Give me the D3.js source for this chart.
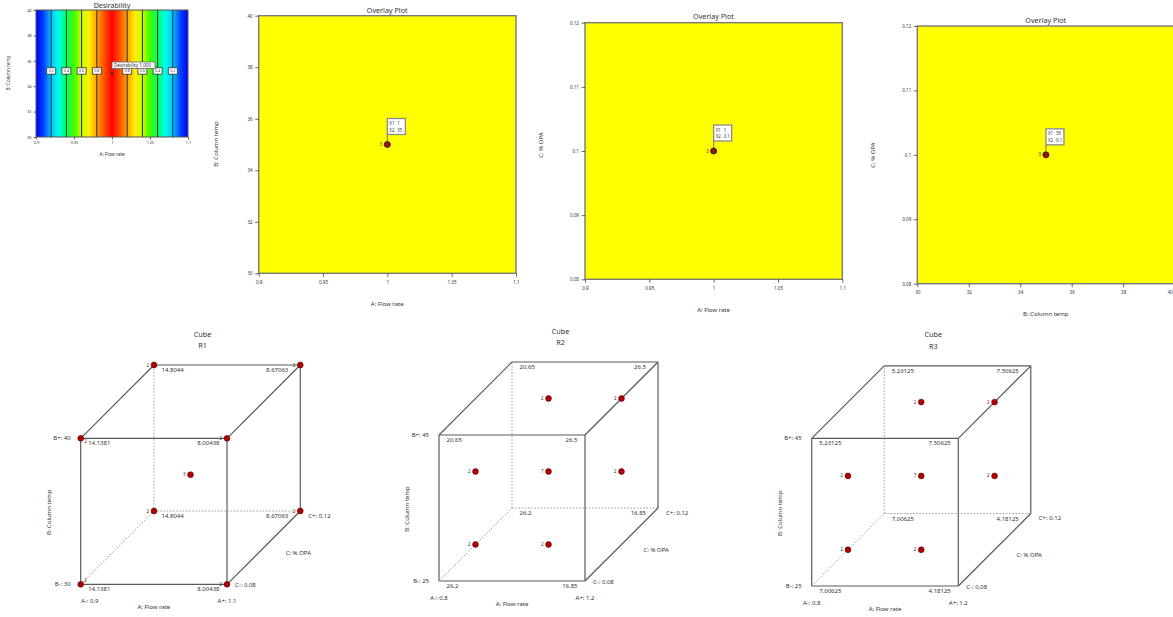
<!DOCTYPE html>
<html>
<head>
<meta charset="utf-8">
<script src="https://cdn.jsdelivr.net/npm/d3@7"></script>
<style>
  html, body { margin: 0; padding: 0; background: #ffffff; }
  svg { display: block; font-family: "Noto Sans", "Open Sans", sans-serif; }
</style>
</head>
<body>
<script>
// ---- factor ticks ----
const flowTicks = [0.9, 0.95, 1, 1.05, 1.1];
const flowTickLabels = ["0.9", "0.95", "1", "1.05", "1.1"];
const tempTicks = [30, 32, 34, 36, 38, 40];
const tempTickLabels = ["30", "32", "34", "36", "38", "40"];
const opaTicks = [0.08, 0.09, 0.1, 0.11, 0.12];
const opaTickLabels = ["0.08", "0.09", "0.1", "0.11", "0.12"];

// ---- desirability contours (A: Flow rate where D takes each level) ----
const contourFlow = [0.92, 0.94, 0.96, 0.98, 1.02, 1.04, 1.06, 1.08];
const contourLevels = ["0.2", "0.4", "0.6", "0.8", "0.8", "0.6", "0.4", "0.2"];
// desirability profile along flow rate
const profileFlow = [0.9, 1.0, 1.1];
const profileD = [0, 1, 0];

// ---- optimum solution ----
const optimumFlow = 1;
const optimumTemp = 35;
const optimumOPA = 0.1;
const optimumDesirability = "1.000";
const optimumRuns = 3;

// ---- cube plots ----
const cubeTitles = ["R1", "R2", "R3"];
const cubeFlowRange = [[0.9, 1.1], [0.8, 1.2], [0.8, 1.2]];
const cubeTempRange = [[30, 40], [25, 45], [25, 45]];
const cubeOPARange = [[0.08, 0.12], [0.08, 0.12], [0.08, 0.12]];
// corners in coded levels (A, B, C)
const cornerLevels = [[-1,-1,-1],[1,-1,-1],[-1,1,-1],[1,1,-1],[-1,-1,1],[1,-1,1],[-1,1,1],[1,1,1]];
const r1Values = ["14.1381","8.00438","14.1381","8.00438","14.8044","8.67063","14.8044","8.67063"];
const r2Values = ["26.2","16.85","20.65","26.5","26.2","16.85","20.65","26.5"];
const r3Values = ["7.00625","4.18125","5.23125","7.50625","7.00625","4.18125","5.23125","7.50625"];
// design runs: coded A, B, C and replicate count
const r1Runs = [[-1,-1,-1,2],[1,-1,-1,2],[-1,1,-1,2],[1,1,-1,2],[-1,-1,1,2],[1,-1,1,2],[-1,1,1,2],[1,1,1,2],[0,0,0,3]];
const r2Runs = [[0,1,0,2],[1,1,0,2],[-1,0,0,2],[0,0,0,7],[1,0,0,2],[-1,-1,0,2],[0,-1,0,2]];
const r3Runs = [[0,1,0,2],[1,1,0,2],[-1,0,0,2],[0,0,0,7],[1,0,0,2],[-1,-1,0,2],[0,-1,0,2]];

const W = 1173, H = 617;
const TXT = "#333333";
const svg = d3.select("body").append("svg").attr("width", W).attr("height", H);
svg.append("rect").attr("width", W).attr("height", H).attr("fill", "#ffffff");

function styleAxis(g, fs) {
  g.select(".domain").remove();
  g.selectAll(".tick line").attr("stroke", "#444").attr("stroke-width", 0.8);
  g.selectAll(".tick text").attr("fill", TXT).attr("font-size", fs).attr("font-family", "Noto Sans, sans-serif");
}

// ---------------- Desirability contour panel ----------------
(function desirability() {
  const x = d3.scaleLinear().domain([0.9, 1.1]).range([36, 188]);
  const y = d3.scaleLinear().domain([30, 40]).range([137, 10]);
  const dAt = d3.scaleLinear().domain(profileFlow).range(profileD);
  const colour = d3.scaleLinear()
    .domain([0, 0.1, 0.2, 0.3, 0.4, 0.5, 0.6, 0.7, 0.8, 0.9, 1])
    .range(["#0000f0", "#0040ff", "#00c8ff", "#00ffe8", "#00ff60", "#40ff00", "#c8ff00", "#ffee00", "#ffa000", "#ff5000", "#ff0000"]);

  const defs = svg.append("defs");
  const grad = defs.append("linearGradient").attr("id", "desGrad")
    .attr("x1", "0%").attr("x2", "100%").attr("y1", "0%").attr("y2", "0%");
  d3.range(0, 101).forEach(i => {
    const a = 0.9 + i * 0.002;
    grad.append("stop").attr("offset", i + "%").attr("stop-color", colour(dAt(a)));
  });

  const g = svg.append("g");
  g.append("rect").attr("x", x(0.9)).attr("y", y(40)).attr("width", x(1.1) - x(0.9)).attr("height", y(30) - y(40))
    .attr("fill", "url(#desGrad)");
  g.selectAll("line.contour").data(contourFlow).enter().append("line").attr("class", "contour")
    .attr("x1", d => x(d)).attr("x2", d => x(d)).attr("y1", y(40)).attr("y2", y(30))
    .attr("stroke", "#2a2a2a").attr("stroke-width", 1);
  g.append("rect").attr("x", x(0.9)).attr("y", y(40)).attr("width", x(1.1) - x(0.9)).attr("height", y(30) - y(40))
    .attr("fill", "none").attr("stroke", "#555").attr("stroke-width", 1);

  const lab = g.selectAll("g.clab").data(contourFlow).enter().append("g").attr("class", "clab")
    .attr("transform", d => `translate(${x(d)},${y(35.2)})`);
  lab.append("rect").attr("x", -4.5).attr("y", -3.2).attr("width", 9).attr("height", 6.4)
    .attr("fill", "#ffffff").attr("stroke", "#333").attr("stroke-width", 0.8);
  lab.append("text").text((d, i) => contourLevels[i]).attr("text-anchor", "middle").attr("dy", "0.35em")
    .attr("font-size", 3.6).attr("fill", TXT);

  // optimum flag
  g.append("circle").attr("cx", x(optimumFlow)).attr("cy", y(optimumTemp)).attr("r", 1.6).attr("fill", "#662200");
  g.append("line").attr("x1", x(optimumFlow)).attr("x2", x(optimumFlow)).attr("y1", y(optimumTemp)).attr("y2", 68)
    .attr("stroke", "#555").attr("stroke-width", 0.7);
  g.append("rect").attr("x", x(optimumFlow)).attr("y", 62).attr("width", 43).attr("height", 6.5)
    .attr("fill", "#ffffff").attr("stroke", "#666").attr("stroke-width", 0.8);
  g.append("text").attr("x", x(optimumFlow) + 2).attr("y", 67.1).attr("font-size", 4.6).attr("fill", TXT)
    .text("Desirability  " + optimumDesirability);

  const ax = g.append("g").attr("transform", `translate(0,${y(30)})`)
    .call(d3.axisBottom(x).tickValues(flowTicks).tickFormat((d, i) => flowTickLabels[i]).tickSize(2.5).tickPadding(2));
  styleAxis(ax, 3.8);
  const ay = g.append("g").attr("transform", `translate(${x(0.9)},0)`)
    .call(d3.axisLeft(y).tickValues(tempTicks).tickFormat((d, i) => tempTickLabels[i]).tickSize(2.5).tickPadding(2));
  styleAxis(ay, 3.8);

  g.append("text").attr("x", 112).attr("y", 7.5).attr("text-anchor", "middle").attr("font-size", 7).attr("fill", TXT).text("Desirability");
  g.append("text").attr("x", 112).attr("y", 156).attr("text-anchor", "middle").attr("font-size", 4.6).attr("fill", TXT).text("A: Flow rate");
  g.append("text").attr("transform", "translate(9.5,73) rotate(-90)").attr("text-anchor", "middle").attr("font-size", 4.6).attr("fill", TXT).text("B: Column temp");
})();

// ---------------- Overlay plots ----------------
function overlayPanel(c) {
  const x = d3.scaleLinear().domain(c.xDomain).range(c.xRange);
  const y = d3.scaleLinear().domain(c.yDomain).range(c.yRange);
  const g = svg.append("g");
  const x0 = c.xRange[0], x1 = c.xRange[1], yTop = c.yRange[1], yBot = c.yRange[0];
  g.append("rect").attr("x", x0).attr("y", yTop).attr("width", x1 - x0).attr("height", yBot - yTop).attr("fill", "#ffff00");
  g.append("rect").attr("x", x0).attr("y", yTop).attr("width", x1 - x0).attr("height", yBot - yTop)
    .attr("fill", "none").attr("stroke", "#7a7a7a").attr("stroke-width", 1.4);

  const ax = g.append("g").attr("transform", `translate(0,${yBot})`)
    .call(d3.axisBottom(x).tickValues(c.xTicks).tickFormat((d, i) => c.xTickLabels[i]).tickSize(3.5).tickPadding(4));
  styleAxis(ax, 4.6);
  // keep a tick label that would run past the page edge inside it
  ax.selectAll(".tick").each(function (d) {
    if (x(d) > W - 4) d3.select(this).select("text").attr("text-anchor", "end").attr("x", W - x(d) - 0.5);
  });
  const ay = g.append("g").attr("transform", `translate(${x0},0)`)
    .call(d3.axisLeft(y).tickValues(c.yTicks).tickFormat((d, i) => c.yTickLabels[i]).tickSize(3.5).tickPadding(2.5));
  styleAxis(ay, 4.6);

  g.append("text").attr("x", (x0 + 257 / 2)).attr("y", c.titleY).attr("text-anchor", "middle").attr("font-size", 7.2).attr("fill", TXT).text("Overlay Plot");
  g.append("text").attr("x", (x0 + 257 / 2)).attr("y", c.xLabelY).attr("text-anchor", "middle").attr("font-size", 6).attr("fill", TXT).text(c.xLabel);
  g.append("text").attr("transform", `translate(${c.yLabelX},${c.yLabelY}) rotate(-90)`).attr("text-anchor", "middle").attr("font-size", 6).attr("fill", TXT).text(c.yLabel);

  // optimum flag
  const px = x(c.point[0]), py = y(c.point[1]);
  g.append("line").attr("x1", px).attr("x2", px).attr("y1", py).attr("y2", py - 10).attr("stroke", "#555").attr("stroke-width", 0.8);
  g.append("rect").attr("x", px).attr("y", py - 26).attr("width", 18).attr("height", 16)
    .attr("fill", "#ffffff").attr("stroke", "#8a8a8a").attr("stroke-width", 1.3);
  g.append("text").attr("x", px + 2).attr("y", py - 19.5).attr("font-size", 4.4).attr("fill", TXT).text("X1");
  g.append("text").attr("x", px + 2).attr("y", py - 13).attr("font-size", 4.4).attr("fill", TXT).text("X2");
  g.append("text").attr("x", px + 10).attr("y", py - 19.5).attr("font-size", 4.4).attr("fill", TXT).text(c.flag[0]);
  g.append("text").attr("x", px + 10).attr("y", py - 13).attr("font-size", 4.4).attr("fill", TXT).text(c.flag[1]);
  g.append("circle").attr("cx", px).attr("cy", py).attr("r", 3).attr("fill", "#a01010").attr("stroke", "#222").attr("stroke-width", 0.9);
  g.append("text").attr("x", px - 5).attr("y", py).attr("dy", "0.35em").attr("text-anchor", "end").attr("font-size", 4.4).attr("fill", TXT).text(optimumRuns);
}

overlayPanel({
  xDomain: [0.9, 1.1], xRange: [258.7, 516], yDomain: [30, 40], yRange: [273.3, 15.7],
  xTicks: flowTicks, xTickLabels: flowTickLabels, yTicks: tempTicks, yTickLabels: tempTickLabels,
  titleY: 12.8, xLabelY: 306.3, xLabel: "A: Flow rate", yLabelX: 218, yLabelY: 144, yLabel: "B: Column temp",
  point: [optimumFlow, optimumTemp], flag: [String(optimumFlow), String(optimumTemp)]
});
overlayPanel({
  xDomain: [0.9, 1.1], xRange: [585, 842.3], yDomain: [0.08, 0.12], yRange: [279.3, 22.7],
  xTicks: flowTicks, xTickLabels: flowTickLabels, yTicks: opaTicks, yTickLabels: opaTickLabels,
  titleY: 18.5, xLabelY: 312.3, xLabel: "A: Flow rate", yLabelX: 543, yLabelY: 145, yLabel: "C: % OPA",
  point: [optimumFlow, optimumOPA], flag: [String(optimumFlow), String(optimumOPA)]
});
overlayPanel({
  xDomain: [30, 40], xRange: [917.3, 1174.6], yDomain: [0.08, 0.12], yRange: [283.7, 26],
  xTicks: tempTicks, xTickLabels: tempTickLabels, yTicks: opaTicks, yTickLabels: opaTickLabels,
  titleY: 22.5, xLabelY: 315.5, xLabel: "B: Column temp", yLabelX: 875, yLabelY: 155, yLabel: "C: % OPA",
  point: [optimumTemp, optimumOPA], flag: [String(optimumTemp), String(optimumOPA)]
});

// ---------------- Cube plots ----------------
function cubePlot(c) {
  const [fA, fB, fC] = [c.flow, c.temp, c.opa];
  const xa = d3.scaleLinear().domain(fA).range([c.left, c.right]);
  const yb = d3.scaleLinear().domain(fB).range([c.bottom, c.top]);
  const dc = d3.scaleLinear().domain(fC).range([0, c.depth]);
  const lvl = (range, k) => range[0] + (k + 1) / 2 * (range[1] - range[0]);
  const P = (a, b, cc) => {
    const A = lvl(fA, a), B = lvl(fB, b), C = lvl(fC, cc);
    return [xa(A) + dc(C), yb(B) - dc(C)];
  };
  const g = svg.append("g");

  // edges: [from, to, hidden]
  const edges = [
    [[-1,-1,-1],[1,-1,-1],0],[[-1,1,-1],[1,1,-1],0],[[-1,-1,-1],[-1,1,-1],0],[[1,-1,-1],[1,1,-1],0],
    [[-1,1,1],[1,1,1],0],[[1,-1,1],[1,1,1],0],[[-1,-1,1],[1,-1,1],1],[[-1,-1,1],[-1,1,1],1],
    [[-1,1,-1],[-1,1,1],0],[[1,1,-1],[1,1,1],0],[[1,-1,-1],[1,-1,1],0],[[-1,-1,-1],[-1,-1,1],1]
  ];
  edges.forEach(([p, q, hidden]) => {
    const a = P(...p), b = P(...q);
    g.append("line").attr("x1", a[0]).attr("y1", a[1]).attr("x2", b[0]).attr("y2", b[1])
      .attr("stroke", hidden ? "#8a8a8a" : "#5a5a5a").attr("stroke-width", hidden ? 0.8 : 1.2)
      .attr("stroke-dasharray", hidden ? "1.6,1.6" : null);
  });

  // corner response values
  cornerLevels.forEach((lv, i) => {
    const [px, py] = P(...lv);
    const left = lv[0] < 0;
    const back = lv[2] > 0;
    g.append("text").attr("x", left ? px + 7.5 : px - (back ? 12 : 7.5)).attr("y", py + 5).attr("dy", "0.35em")
      .attr("text-anchor", left ? "start" : "end").attr("font-size", 6).attr("fill", TXT).text(c.values[i]);
  });

  // design points
  c.runs.forEach(r => {
    const [px, py] = P(r[0], r[1], r[2]);
    g.append("circle").attr("cx", px).attr("cy", py).attr("r", 2.9).attr("fill", "#b00000").attr("stroke", "#5a0000").attr("stroke-width", 0.6);
    const right = r[0] < 0 && r[2] < 0 && Math.abs(r[1]) === 1 && r[2] === -1;
    g.append("text").attr("x", right ? px + 3.5 : px - 5).attr("y", right ? py + (r[1] > 0 ? 3.5 : -3.5) : py)
      .attr("dy", "0.35em").attr("text-anchor", right ? "start" : "end").attr("font-size", 4.4).attr("fill", TXT).text(r[3]);
  });

  const fbl = P(-1,-1,-1), ftl = P(-1,1,-1), fbr = P(1,-1,-1), bbr = P(1,-1,1), btl = P(-1,1,1);
  const fmt = v => String(v);
  const t = (x, y, s, anchor, fs) => g.append("text").attr("x", x).attr("y", y).attr("dy", "0.35em")
    .attr("text-anchor", anchor).attr("font-size", fs || 6).attr("fill", TXT).text(s);
  t(ftl[0] - 10, ftl[1], "B+: " + fmt(fB[1]), "end");
  t(fbl[0] - 10, fbl[1], "B-: " + fmt(fB[0]), "end");
  t(fbl[0] + c.aLowDx, fbl[1] + 16.5, "A-: " + fmt(fA[0]), "middle");
  t(fbr[0], fbr[1] + 16.5, "A+: " + fmt(fA[1]), "middle");
  t((fbl[0] + fbr[0]) / 2, fbl[1] + 23, "A: Flow rate", "middle");
  t(fbr[0] + 8, fbr[1] + 0.5, "C-: " + fmt(fC[0]), "start");
  t(bbr[0] + 8, bbr[1] + 4.5, "C+: " + fmt(fC[1]), "start");
  t((fbr[0] + bbr[0]) / 2 + 22, (fbr[1] + bbr[1]) / 2 + 5.5, "C: % OPA", "start");
  g.append("text").attr("transform", `translate(${fbl[0] - 32},${(fbl[1] + ftl[1]) / 2 + 1}) rotate(-90)`)
    .attr("text-anchor", "middle").attr("dy", "0.35em").attr("font-size", 6).attr("fill", TXT).text("B: Column temp");
  const cx = (fbl[0] + fbr[0]) / 2 + c.depth / 2 + 12;
  t(cx, btl[1] - 31, "Cube", "middle", 7.2);
  t(cx, btl[1] - 19.5, c.title, "middle", 7.2);
}

cubePlot({ title: cubeTitles[0], flow: cubeFlowRange[0], temp: cubeTempRange[0], opa: cubeOPARange[0],
  values: r1Values, runs: r1Runs, left: 80.7, right: 227, top: 438.3, bottom: 584.3, depth: 73.3, aLowDx: 9 });
cubePlot({ title: cubeTitles[1], flow: cubeFlowRange[1], temp: cubeTempRange[1], opa: cubeOPARange[1],
  values: r2Values, runs: r2Runs, left: 439, right: 585, top: 435, bottom: 581, depth: 73, aLowDx: 0 });
cubePlot({ title: cubeTitles[2], flow: cubeFlowRange[2], temp: cubeTempRange[2], opa: cubeOPARange[2],
  values: r3Values, runs: r3Runs, left: 811.7, right: 958.3, top: 438.3, bottom: 586, depth: 72.5, aLowDx: 0 });
</script>
</body>
</html>
